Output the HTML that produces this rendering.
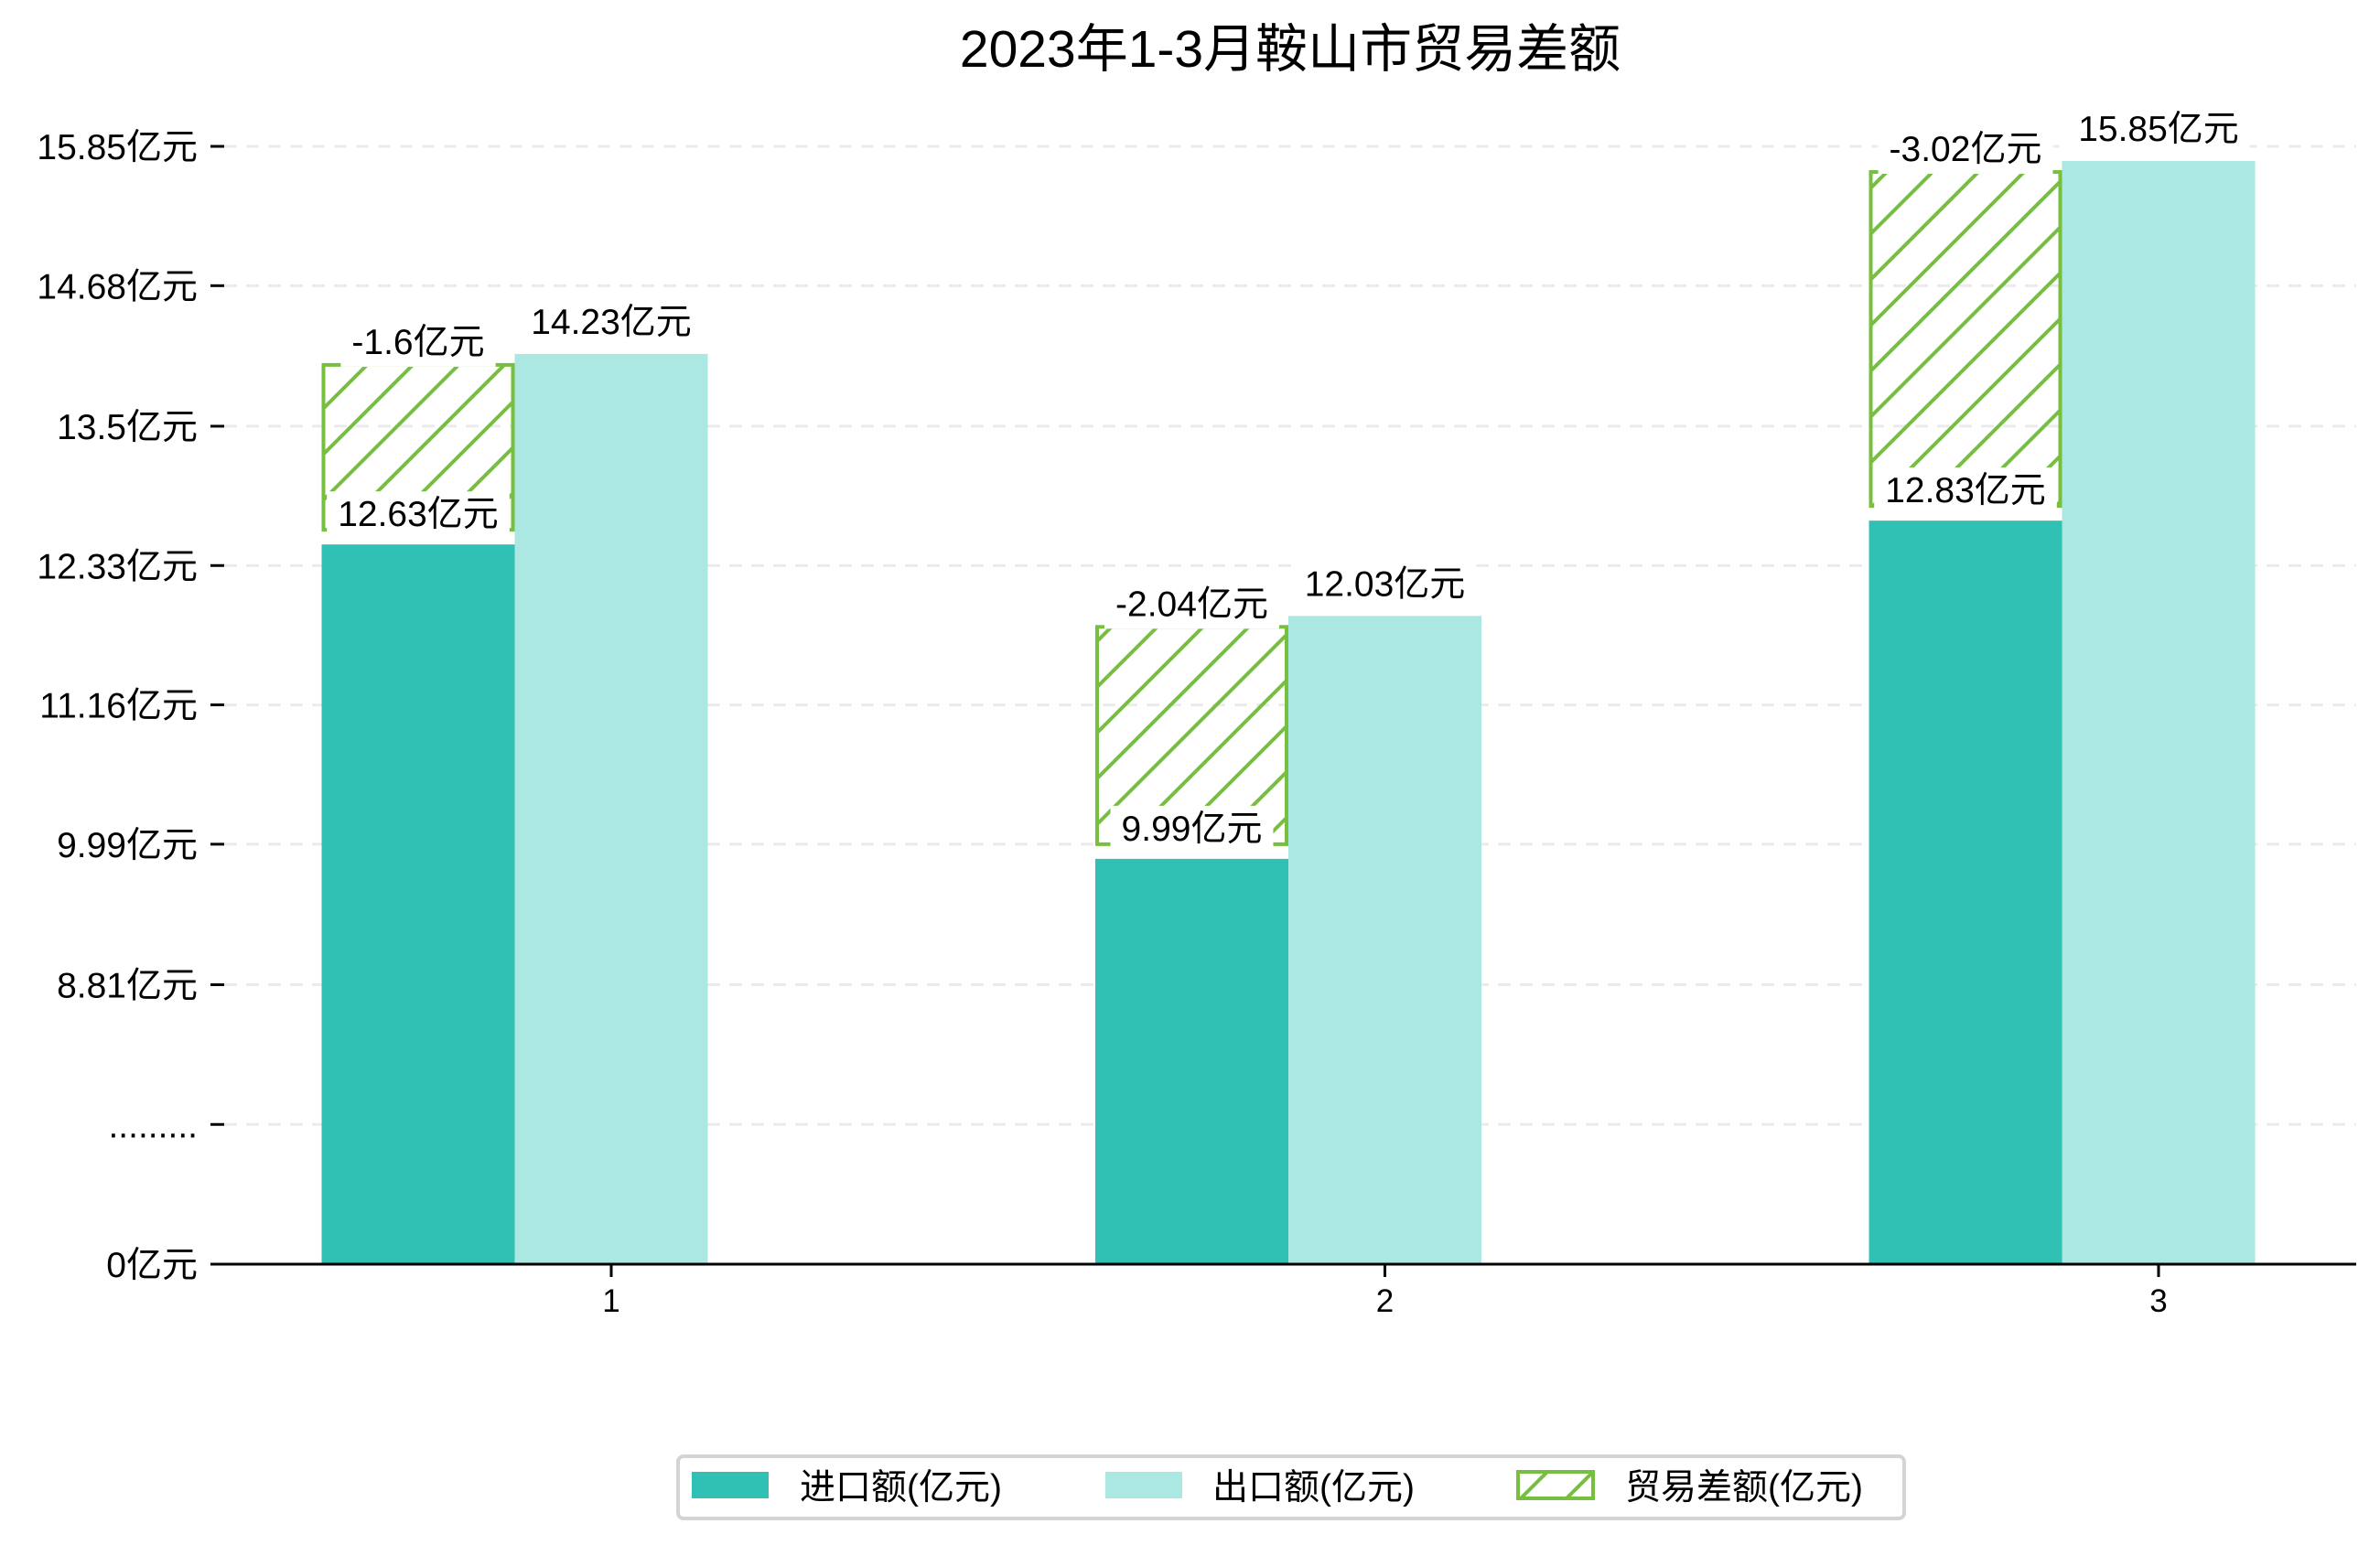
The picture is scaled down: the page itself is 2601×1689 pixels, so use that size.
<!DOCTYPE html>
<html><head><meta charset="utf-8">
<style>
html,body{margin:0;padding:0;background:#fff;}
svg{display:block;font-family:"WenQuanYi Zen Hei","Liberation Sans",sans-serif;}
</style></head>
<body>
<svg id="chart" width="2601" height="1689" viewBox="0 0 2601 1689" xmlns="http://www.w3.org/2000/svg">
<defs>
<pattern id="hatch" patternUnits="userSpaceOnUse" width="50" height="50">
<path d="M-5,55 L55,-5 M-5,5 L5,-5 M45,55 L55,45" stroke="#77bf3e" stroke-width="4"/>
</pattern>
</defs>
<text x="1410" y="73" text-anchor="middle" font-size="57" fill="#000">2023年1-3月鞍山市贸易差额</text>
<g id="grid"></g>
<g id="bars"></g>
<g id="labels"></g>
<g id="axes"></g>
<g>
<rect x="741" y="1592" width="1340" height="68" rx="6" fill="#fff" stroke="#d4d4d4" stroke-width="4"/>
<rect x="756" y="1609" width="84" height="29" fill="#31c1b4"/>
<text x="874" y="1639" font-size="39">进口额(亿元)</text>
<rect x="1208" y="1609" width="84" height="29" fill="#abe8e2"/>
<text x="1325" y="1639" font-size="39">出口额(亿元)</text>
<rect x="1659" y="1609" width="82" height="29" fill="url(#hatch)" stroke="#77bf3e" stroke-width="4"/>
<text x="1776" y="1639" font-size="39">贸易差额(亿元)</text>
</g>
</svg>
<script>
const categories = ["1","2","3"];
const importVals = [12.63, 9.99, 12.83];
const exportVals = [14.23, 12.03, 15.85];
const balanceVals = [-1.6, -2.04, -3.02];
const yTickVals = [8.81, 9.99, 11.16, 12.33, 13.5, 14.68, 15.85];
const yTickLabels = ["8.81亿元","9.99亿元","11.16亿元","12.33亿元","13.5亿元","14.68亿元","15.85亿元"];

const NS = "http://www.w3.org/2000/svg";
const zeroY = 1382, plotL = 245, plotR = 2575;
const step = (15.85 - 8.81) / 6, pxStep = 152.75;
const base = 8.81 - 2 * step;
function yScale(v){ return v <= 0 ? zeroY : zeroY - (v - base) / step * pxStep; }
function yBar(v){ return yScale(v) + 16; }
function xScale(i){ return 668 + i * 845.5; }
const bw = 211;
function el(tag, attrs, parent){ const e = document.createElementNS(NS, tag); for (const k in attrs) e.setAttribute(k, attrs[k]); parent.appendChild(e); return e; }
const grid = document.getElementById('grid'), bars = document.getElementById('bars'), labels = document.getElementById('labels'), axes = document.getElementById('axes');

const allTicks = yTickVals.map((v,i)=>({y:yScale(v), t:yTickLabels[i]}));
allTicks.push({y:(yScale(8.81)+zeroY)/2, t:"........."});
allTicks.push({y:zeroY, t:"0亿元"});
allTicks.forEach(tk=>{
  if (tk.y !== zeroY) {
    const g = el('line',{x1:plotL,x2:plotR,y1:tk.y,y2:tk.y,stroke:'#ebebeb','stroke-width':3,'stroke-dasharray':'14,10'},grid);
    
    
  }
  const m = el('line',{x1:plotL-15,x2:plotL,y1:tk.y,y2:tk.y,stroke:'#000','stroke-width':3},axes);
  
  
  const t = el('text',{x:216,y:tk.y+14,'text-anchor':'end','font-size':39},axes);
  t.textContent = tk.t;
  
  
});
const xa = el('line',{x1:plotL,x2:plotR,y1:zeroY,y2:zeroY,stroke:'#000','stroke-width':3},axes);



function label(x, y, txt, name){
  const r = el('rect',{x:x,y:y-38,width:10,height:52,fill:'#fff'},labels);
  
  
  const t = el('text',{x:x,y:y,'text-anchor':'middle','font-size':39},labels);
  t.textContent = txt;
  
  
  const w = t.getComputedTextLength() + 24;
  r.setAttribute('x', x - w/2);
  r.setAttribute('width', w);
}

categories.forEach((c,i)=>{
  const cx = xScale(i);
  const yi = yBar(importVals[i]);
  const r1 = el('rect',{x:cx-1.5*bw,y:yi,width:bw,height:zeroY-yi,fill:'#31c1b4'},bars);
  
  
  const ye = yBar(exportVals[i]);
  const r2 = el('rect',{x:cx-0.5*bw,y:ye,width:bw,height:zeroY-ye,fill:'#abe8e2'},bars);
  
  
  const hb = yScale(importVals[i]);
  const ht = yScale(importVals[i] + Math.abs(balanceVals[i])) + 28;
  const r3 = el('rect',{x:cx-1.5*bw+2,y:ht,width:bw-4,height:hb-ht,fill:'url(#hatch)',stroke:'#77bf3e','stroke-width':4},bars);
  
  
  label(cx-bw, yi-20, importVals[i]+'亿元', 'import-value-label');
  label(cx, ye-22, exportVals[i]+'亿元', 'export-value-label');
  label(cx-bw, ht-12, balanceVals[i]+'亿元', 'balance-value-label');
  const tm = el('line',{x1:cx,x2:cx,y1:zeroY,y2:zeroY+14,stroke:'#000','stroke-width':3},axes);
  
  
  const tl = el('text',{x:cx,y:zeroY+52,'text-anchor':'middle','font-size':35},axes);
  tl.textContent = c;
  
  
});
</script>
</body></html>
